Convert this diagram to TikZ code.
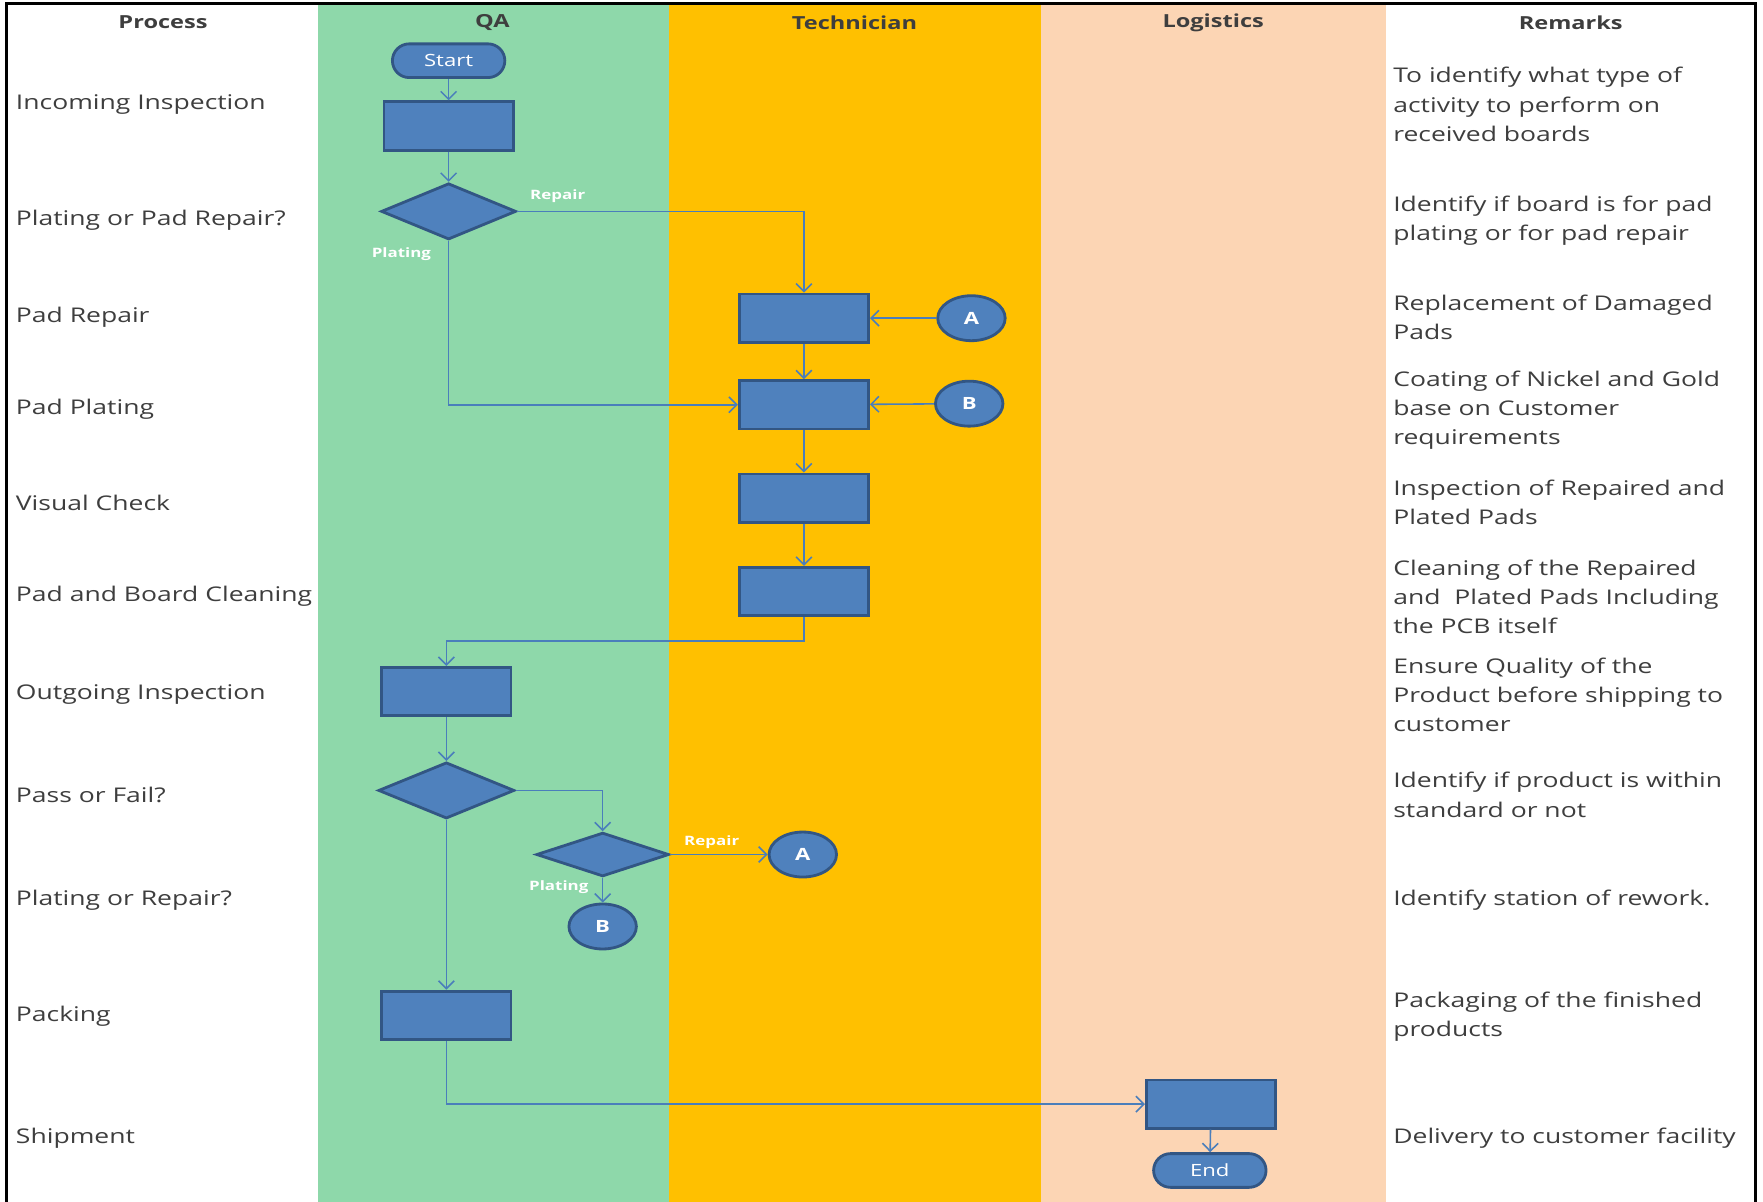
\documentclass[tikz,border=0pt]{standalone}
\usepackage{fontspec}
\setmainfont[FakeStretch=1.31]{Open Sans}
\usetikzlibrary{shapes.geometric,arrows.meta}
\definecolor{qagreen}{RGB}{142,216,170}
\definecolor{techorange}{RGB}{255,192,0}
\definecolor{logpeach}{RGB}{252,213,180}
\definecolor{boxblue}{RGB}{79,129,189}
\definecolor{boxedge}{RGB}{50,86,132}
\definecolor{linkblue}{RGB}{74,126,187}
\definecolor{txtgray}{RGB}{62,62,62}
\tikzset{
  stepbox/.style={rectangle, fill=boxblue, draw=boxedge, line width=2.5pt, minimum width=115, minimum height=43, inner sep=0pt},
  decision/.style={diamond, fill=boxblue, draw=boxedge, line width=2.5pt, inner sep=0pt},
  terminal/.style={rectangle, rounded corners=15pt, fill=boxblue, draw=boxedge, line width=2.5pt, minimum width=100, minimum height=30, inner sep=0pt, text=white, font=\fontsize{15}{18}\selectfont},
  connector/.style={ellipse, fill=boxblue, draw=boxedge, line width=2.5pt, minimum width=60, minimum height=40, inner sep=0pt, text=white, font=\bfseries\fontsize{15}{18}\selectfont},
  flow/.style={draw=linkblue, line width=1.4pt, -{Straight Barb[length=7pt,width=14pt]}},
  branch/.style={text=white, font=\bfseries\fontsize{11.5}{13}\selectfont, inner sep=0pt},
  lanehead/.style={text=txtgray, font=\bfseries\fontsize{16}{19}\selectfont, inner sep=0pt},
  proc/.style={text=txtgray, anchor=west, font=\fontsize{18}{26}\selectfont, inner sep=0pt},
  remark/.style={text=txtgray, anchor=west, align=left, font=\fontsize{18}{26}\selectfont, inner sep=0pt}
}
\begin{document}
\begin{tikzpicture}[x=1pt,y=-1pt]
\useasboundingbox (0,0) rectangle (1568,1069);
\fill[white] (0,0) rectangle (1568,1069);
% lanes
\fill[qagreen] (283,3) rectangle (595,1069);
\fill[techorange] (595,3) rectangle (926,1069);
\fill[logpeach] (926,3) rectangle (1233,1069);
\draw[line width=2.5pt, black] (6,1069) -- (6,3) -- (1561,3) -- (1561,1069);

% headers
\node[lanehead] (hProc) at (145,20) {Process};
\node[lanehead] (hQA) at (438,20) {QA};
\node[lanehead] (hTech) at (760,20) {Technician};
\node[lanehead] (hLog) at (1079,20) {Logistics};
\node[lanehead] (hRem) at (1397,20) {Remarks};

% process labels
\node[proc] (p1) at (14,93) {Incoming Inspection};
\node[proc] (p2) at (14,196) {Plating or Pad Repair?};
\node[proc] (p3) at (14,282) {Pad Repair};
\node[proc] (p4) at (14,364) {Pad Plating};
\node[proc] (p5) at (14,447) {Visual Check};
\node[proc] (p6) at (14,530) {Pad and Board Cleaning};
\node[proc] (p7) at (14,618) {Outgoing Inspection};
\node[proc] (p8) at (14,707) {Pass or Fail?};
\node[proc] (p9) at (14,801) {Plating or Repair?};
\node[proc] (p10) at (14,904) {Packing};
\node[proc] (p11) at (14,1012) {Shipment};

% remarks
\node[remark] (r1) at (1239,93) {To identify what type of\\activity to perform on\\received boards};
\node[remark] (r2) at (1239,196) {Identify if board is for pad\\plating or for pad repair};
\node[remark] (r3) at (1239,282) {Replacement of Damaged\\Pads};
\node[remark] (r4) at (1239,365) {Coating of Nickel and Gold\\base on Customer\\requirements};
\node[remark] (r5) at (1239,447) {Inspection of Repaired and\\Plated Pads};
\node[remark] (r6) at (1239,531) {Cleaning of the Repaired\\and\ \ Plated Pads Including\\the PCB itself};
\node[remark] (r7) at (1239,618) {Ensure Quality of the\\Product before shipping to\\customer};
\node[remark] (r8) at (1239,707) {Identify if product is within\\standard or not};
\node[remark] (r9) at (1239,801) {Identify station of rework.};
\node[remark] (r10) at (1239,904) {Packaging of the finished\\products};
\node[remark] (r11) at (1239,1012) {Delivery to customer facility};

% flow nodes
\node[terminal] (start) at (399,54) {Start};
\node[stepbox] (inc) at (399,112) {};
\node[decision, minimum width=120, minimum height=50] (d1) at (399,188) {};
\node[stepbox] (rep) at (715,283) {};
\node[connector] (A1) at (864,283) {A};
\node[stepbox] (plt) at (715,360) {};
\node[connector] (B1) at (862,359) {B};
\node[stepbox] (vis) at (715,443) {};
\node[stepbox] (cln) at (715,526) {};
\coordinate (j1) at (397,570);
\node[stepbox] (outg) at (397,615) {};
\node[decision, minimum width=121, minimum height=50] (d2) at (397,703) {};
\node[decision, minimum width=118, minimum height=39] (d3) at (536,760) {};
\node[connector] (A2) at (714,760) {A};
\node[connector] (B2) at (536,824) {B};
\node[stepbox] (pack) at (397,903) {};
\node[stepbox] (ship) at (1077,982) {};
\node[terminal] (fin) at (1076,1041) {End};

% branch labels
\node[branch] (lr1) at (496,174) {Repair};
\node[branch] (lp1) at (357,226) {Plating};
\node[branch] (lr2) at (633,749) {Repair};
\node[branch] (lp2) at (497,789) {Plating};

% connectors
\draw[flow] (start) -- (inc);
\draw[flow] (inc) -- (d1);
\draw[flow] (d1.east) -| (rep.north);
\draw[flow] (d1.south) |- (plt.west);
\draw[flow] (A1) -- (rep);
\draw[flow] (rep) -- (plt);
\draw[flow] (B1) -- (plt);
\draw[flow] (plt) -- (vis);
\draw[flow] (vis) -- (cln);
\draw[flow] (cln.south) |- (j1) -- (outg.north);
\draw[flow] (outg) -- (d2);
\draw[flow] (d2.east) -| (d3.north);
\draw[flow] (d3.east) -- (A2);
\draw[flow] (d3.south) -- (B2);
\draw[flow] (d2.south) -- (pack.north);
\draw[flow] (pack.south) |- (ship.west);
\draw[flow] (ship) -- (fin);
\end{tikzpicture}
\end{document}
